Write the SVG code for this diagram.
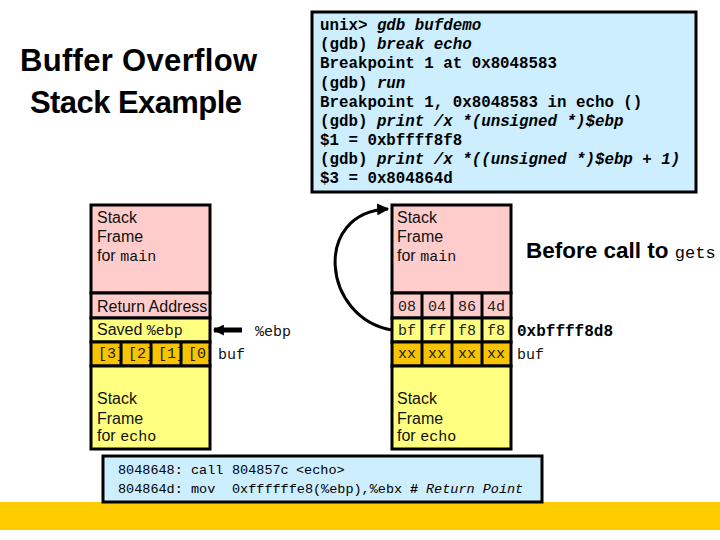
<svg xmlns="http://www.w3.org/2000/svg" width="720" height="540" viewBox="0 0 720 540">
<style>
.sans{font-family:"Liberation Sans",Arial,sans-serif;}
.mono{font-family:"Liberation Mono","Courier New",monospace;}
.bx{stroke:#000;stroke-width:3;}
.pink{fill:#FFCCCC;}
.yel{fill:#FFFF80;}
.org{fill:#F8C400;}
.blue{fill:#CCEEFF;}
.lbl{font-family:"Liberation Sans",Arial,sans-serif;font-size:16px;fill:#111;}
.lm{font-family:"Liberation Mono","Courier New",monospace;font-size:15px;}
.code{font-family:"Liberation Mono","Courier New",monospace;font-size:15.8px;font-weight:bold;fill:#000;}
.asm{font-family:"Liberation Mono","Courier New",monospace;font-size:13.5px;fill:#000;}
.cell{font-family:"Liberation Mono","Courier New",monospace;font-size:15px;fill:#222;text-anchor:middle;}
.conn{fill:none;stroke:#000;}
</style>
<defs>
<marker id="ah" viewBox="0 0 10 10" refX="9" refY="5" markerWidth="4" markerHeight="4" orient="auto" markerUnits="strokeWidth">
<path d="M0,0 L10,5 L0,10 z" fill="#000"/>
</marker>
<marker id="ah2" viewBox="0 0 10 10" refX="9" refY="5" markerWidth="2.2" markerHeight="2.2" orient="auto" markerUnits="strokeWidth">
<path d="M0,0 L10,5 L0,10 z" fill="#000"/>
</marker>
<clipPath id="clipL"><rect x="91" y="342" width="119" height="24"/></clipPath>
</defs>

<rect x="0" y="0" width="720" height="540" fill="#fff"/>
<rect x="0" y="502" width="720" height="28" fill="#FFCC00"/>

<g id="title">
<text class="sans" x="20" y="71" font-size="31" font-weight="bold" textLength="237">Buffer Overflow</text>
<text class="sans" x="30" y="113" font-size="31" font-weight="bold" textLength="212">Stack Example</text>
</g>

<g id="gdb-session">
<rect class="bx blue" x="312" y="12" width="384" height="180"/>
<text class="code" x="320" y="30">unix&gt; <tspan font-style="italic">gdb bufdemo</tspan></text>
<text class="code" x="320" y="49">(gdb) <tspan font-style="italic">break echo</tspan></text>
<text class="code" x="320" y="68">Breakpoint 1 at 0x8048583</text>
<text class="code" x="320" y="87.5">(gdb) <tspan font-style="italic">run</tspan></text>
<text class="code" x="320" y="107">Breakpoint 1, 0x8048583 in echo ()</text>
<text class="code" x="320" y="126">(gdb) <tspan font-style="italic">print /x *(unsigned *)$ebp</tspan></text>
<text class="code" x="320" y="145">$1 = 0xbffff8f8</text>
<text class="code" x="320" y="164">(gdb) <tspan font-style="italic">print /x *((unsigned *)$ebp + 1)</tspan></text>
<text class="code" x="320" y="183">$3 = 0x804864d</text>
</g>

<g id="left-stack">
<rect class="bx pink" x="91" y="205" width="119" height="88"/>
<text class="lbl" x="97" y="223">Stack</text>
<text class="lbl" x="97" y="242">Frame</text>
<text class="lbl" x="97" y="261">for <tspan class="lm">main</tspan></text>
<rect class="bx pink" x="91" y="293" width="119" height="25"/>
<text class="lbl" x="97" y="312">Return Address</text>
<rect class="bx yel" x="91" y="318" width="119" height="24"/>
<text class="lbl" x="97" y="335">Saved <tspan class="lm">%ebp</tspan></text>
<g clip-path="url(#clipL)">
<rect class="org" x="91" y="342" width="119" height="24"/>
<text class="lm" x="98" y="358" fill="#222">[3]</text>
<text class="lm" x="128" y="358" fill="#222">[2]</text>
<text class="lm" x="158" y="358" fill="#222">[1]</text>
<text class="lm" x="188" y="358" fill="#222">[0]</text>
</g>
<rect class="bx" fill="none" x="91" y="342" width="119" height="24"/>
<line x1="121" y1="342" x2="121" y2="366" stroke="#000" stroke-width="3"/>
<line x1="151" y1="342" x2="151" y2="366" stroke="#000" stroke-width="3"/>
<line x1="181" y1="342" x2="181" y2="366" stroke="#000" stroke-width="3"/>
<rect class="bx yel" x="91" y="366" width="119" height="83"/>
<text class="lbl" x="97" y="404">Stack</text>
<text class="lbl" x="97" y="424">Frame</text>
<text class="lbl" x="97" y="441">for <tspan class="lm">echo</tspan></text>
<text class="lm" x="255" y="336" fill="#111">%ebp</text>
<text class="lm" x="218" y="359" fill="#111">buf</text>
</g>

<g id="right-stack">
<rect class="bx pink" x="392" y="205" width="119" height="88"/>
<text class="lbl" x="397" y="223">Stack</text>
<text class="lbl" x="397" y="242">Frame</text>
<text class="lbl" x="397" y="261">for <tspan class="lm">main</tspan></text>
<rect class="bx pink" x="392" y="293" width="119" height="25"/>
<text class="cell" x="407" y="311">08</text>
<text class="cell" x="437" y="311">04</text>
<text class="cell" x="467" y="311">86</text>
<text class="cell" x="496" y="311">4d</text>
<rect class="bx yel" x="392" y="318" width="119" height="24"/>
<text class="cell" x="407" y="335">bf</text>
<text class="cell" x="437" y="335">ff</text>
<text class="cell" x="467" y="335">f8</text>
<text class="cell" x="496" y="335">f8</text>
<rect class="bx org" x="392" y="342" width="119" height="24"/>
<text class="cell" x="407" y="358" font-size="13">xx</text>
<text class="cell" x="437" y="358" font-size="13">xx</text>
<text class="cell" x="467" y="358" font-size="13">xx</text>
<text class="cell" x="496" y="358" font-size="13">xx</text>
<line x1="422" y1="293" x2="422" y2="366" stroke="#000" stroke-width="3"/>
<line x1="452" y1="293" x2="452" y2="366" stroke="#000" stroke-width="3"/>
<line x1="482" y1="293" x2="482" y2="366" stroke="#000" stroke-width="3"/>
<rect class="bx yel" x="392" y="366" width="119" height="83"/>
<text class="lbl" x="397" y="404">Stack</text>
<text class="lbl" x="397" y="424">Frame</text>
<text class="lbl" x="397" y="441">for <tspan class="lm">echo</tspan></text>
<text class="mono" x="517" y="336" font-size="16" font-weight="bold">0xbffff8d8</text>
<text class="lm" x="517" y="359" fill="#111">buf</text>
<text class="sans" x="526" y="258" font-size="22.5" font-weight="bold">Before call to <tspan class="mono" font-weight="normal" font-size="17">gets</tspan></text>
</g>

<g id="asm">
<rect class="bx blue" x="103" y="456" width="439" height="46"/>
<text class="asm" y="474"><tspan x="118">8048648:</tspan><tspan x="191">call</tspan><tspan x="232">804857c</tspan><tspan x="296">&lt;echo&gt;</tspan></text>
<text class="asm" y="493"><tspan x="118">804864d:</tspan><tspan x="191">mov</tspan><tspan x="232">0xffffffe8(%ebp),%ebx</tspan><tspan x="410" font-weight="bold">#</tspan><tspan x="426" font-style="italic">Return Point</tspan></text>
</g>

<g id="connectors">
<line class="conn" x1="242" y1="330" x2="214" y2="330" stroke-width="5" marker-end="url(#ah2)"/>
<path class="conn" d="M392,330 C322,318 312,212 388,209" stroke-width="3" marker-end="url(#ah)"/>
</g>
</svg>
